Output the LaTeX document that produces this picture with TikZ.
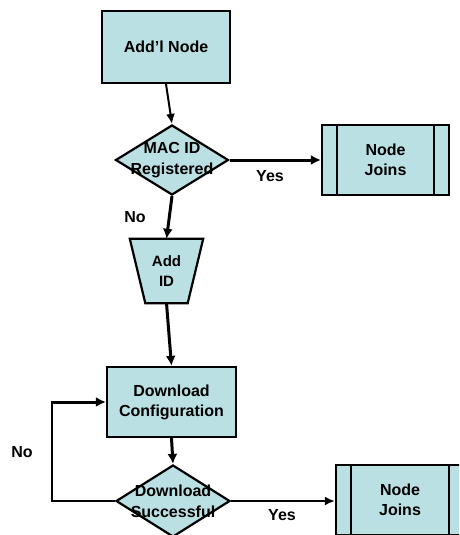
\documentclass[tikz,border=0pt]{standalone}
\usepackage{fontspec}
\setmainfont{Liberation Sans}
\usetikzlibrary{shapes.geometric,arrows.meta,calc}
\definecolor{boxfill}{RGB}{187,224,227}
\tikzset{
  every node/.style={font=\fontsize{16}{20}\selectfont\bfseries},
  procbox/.style={draw, line width=2.2pt, fill=boxfill, inner sep=0pt, align=center},
  decision/.style={draw, diamond, line width=2.2pt, fill=boxfill, inner sep=0pt},
  conn/.style={line width=2pt, -{Latex[length=10pt,width=9pt]}},
  thickconn/.style={line width=3pt, -{Latex[length=10pt,width=10pt]}},
  lbl/.style={inner sep=0pt}
}
\begin{document}
\begin{tikzpicture}[x=1pt,y=-1pt]
\clip (0,0) rectangle (459,535);
\fill[white] (0,0) rectangle (459,535);

\node[procbox, minimum width=128, minimum height=72] (addl) at (166,47) {Add’l Node};

\node[decision, minimum width=113, minimum height=70,
      label={[align=center, inner sep=0pt]center:MAC ID\\[1pt]Registered}] (mac) at (172,160) {};

\node[procbox, minimum width=127, minimum height=70] (nj1) at (385.5,160) {Node\\Joins};
\draw[line width=2.2pt] ($(nj1.north west)+(16,0)$) -- ($(nj1.south west)+(16,0)$);
\draw[line width=2.2pt] ($(nj1.north east)+(-16,0)$) -- ($(nj1.south east)+(-16,0)$);

\node[inner sep=0pt, minimum width=73, minimum height=64, align=center] (addid) at (166.5,271) {};
\draw[line width=2.2pt, fill=boxfill] (addid.north west) -- (addid.north east)
  -- ($(addid.south east)+(-15.5,0)$) -- ($(addid.south west)+(15.5,0)$) -- cycle;
\node[align=center, inner sep=0pt, font=\fontsize{15}{20}\selectfont\bfseries] at (addid.center) {Add\\ID};

\node[procbox, minimum width=129, minimum height=70] (dl) at (171.5,402) {Download\\Configuration};

\node[decision, minimum width=114, minimum height=72,
      label={[align=center, inner sep=0pt]center:Download\\[1pt]Successful}] (ds) at (173,501) {};

\node[procbox, minimum width=128, minimum height=70] (nj2) at (400,500) {Node\\Joins};
\draw[line width=2.2pt] ($(nj2.north west)+(16,0)$) -- ($(nj2.south west)+(16,0)$);
\draw[line width=2.2pt] ($(nj2.north east)+(-16,0)$) -- ($(nj2.south east)+(-16,0)$);

\coordinate (loop) at (52,501);

\draw[conn] (addl.south) -- (mac.north);
\draw[thickconn] (mac.east) -- (nj1.west |- mac.east);
\draw[thickconn] (mac.south) -- (addid.north);
\draw[thickconn] (addid.south) -- (dl.north);
\draw[thickconn] (dl.south) -- (ds.north);
\draw[line width=2pt] (ds.west) -- (loop) -- (loop |- dl.west);
\draw[thickconn] ([xshift=-1pt]loop |- dl.west) -- (dl.west);
\draw[conn] (ds.east) -- (nj2.west |- ds.east);

\node[lbl] (yes1) at (270,176) {Yes};
\node[lbl] (no1) at (135,217) {No};
\node[lbl] (no2) at (22,452) {No};
\node[lbl] (yes2) at (282,515) {Yes};
\end{tikzpicture}
\end{document}
